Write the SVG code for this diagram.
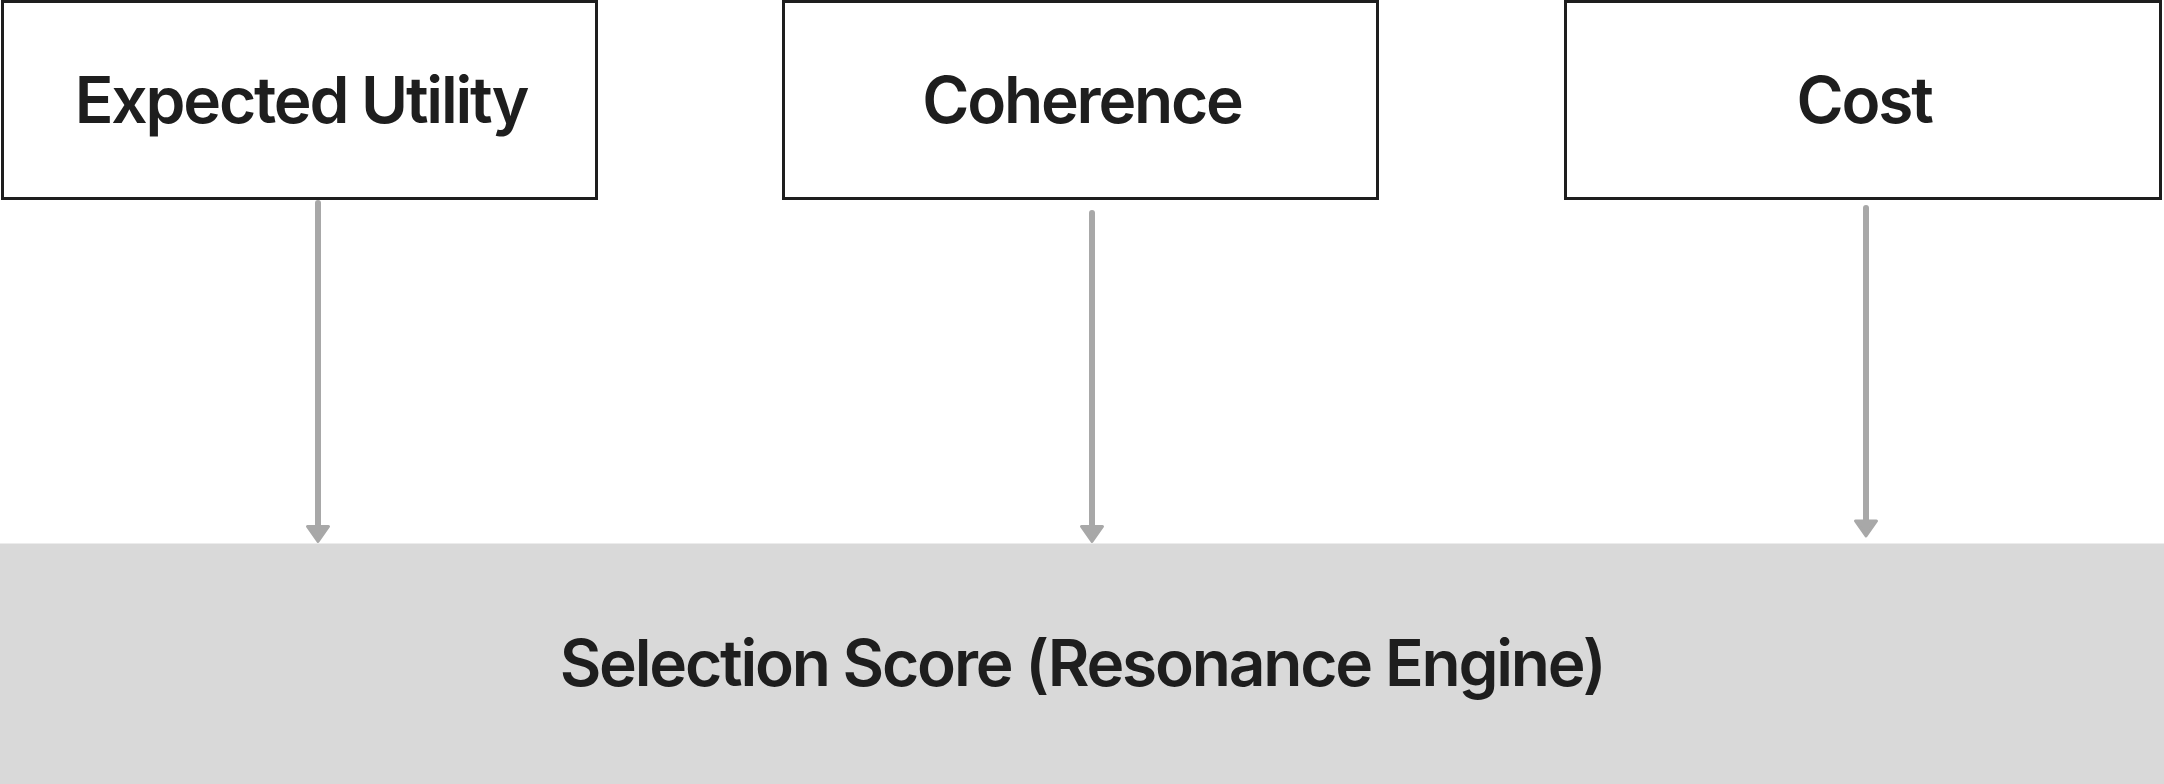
<svg xmlns="http://www.w3.org/2000/svg" width="2164" height="784" viewBox="0 0 2164 784">
<style>
.box{fill:#ffffff;stroke:#1e1e1e;stroke-width:3}
.lbl{font-family:Inter,"Noto Sans","Liberation Sans",sans-serif;font-weight:600;font-size:64px;letter-spacing:-2.2px;fill:#1e1e1e;text-anchor:middle}
.shaft{stroke:#a8a8a8;stroke-width:6;stroke-linecap:round;fill:none}
.head{fill:#a8a8a8;stroke:#a8a8a8;stroke-width:3;stroke-linejoin:round}
</style>
<rect width="2164" height="784" fill="#ffffff"/>
<g id="node-expected-utility">
<rect class="box" x="2.5" y="1.5" width="594" height="197"/>
<text class="lbl" x="301" y="122.7">Expected Utility</text>
</g>
<g id="node-coherence">
<rect class="box" x="783.5" y="1.5" width="594" height="197"/>
<text class="lbl" x="1082" y="122.7">Coherence</text>
</g>
<g id="node-cost">
<rect class="box" x="1565.5" y="1.5" width="595" height="197"/>
<text class="lbl" x="1864" y="122.7">Cost</text>
</g>
<g id="node-selection-score">
<rect x="0" y="543.5" width="2164" height="240.5" fill="#d9d9d9"/>
<text class="lbl" x="1082" y="686">Selection Score (Resonance Engine)</text>
</g>
<g id="connectors">
<line class="shaft" x1="318" y1="203" x2="318" y2="528"/>
<polygon class="head" points="307.5,526.5 328.5,526.5 318,541.5"/>
<line class="shaft" x1="1092" y1="213" x2="1092" y2="528"/>
<polygon class="head" points="1081.5,526.5 1102.5,526.5 1092,541.5"/>
<line class="shaft" x1="1866" y1="208" x2="1866" y2="522"/>
<polygon class="head" points="1855.5,521 1876.5,521 1866,536"/>
</g>
</svg>
